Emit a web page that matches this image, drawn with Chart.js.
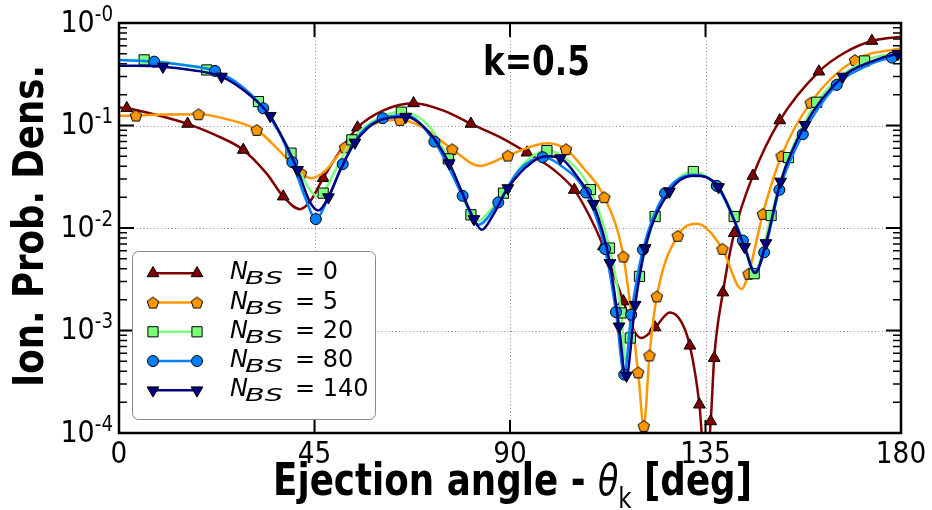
<!DOCTYPE html>
<html>
<head>
<meta charset="utf-8">
<script src="https://cdn.jsdelivr.net/npm/chart.js@4.4.1/dist/chart.umd.min.js"></script>
<style>
  html, body { margin: 0; padding: 0; background: #fff; }
  #chart { display: block; }
</style>
</head>
<body>
<canvas id="chart" width="932" height="510"></canvas>
<script>
// ejection angle (deg) and log10 of the ionization probability density
const angleTicks = [45, 90, 135];
const angleLabels = ['0', '45', '90', '135', '180'];
const decadeExps = [-4, -3, -2, -1, 0];
const decadeLabels = ['-4', '-3', '-2', '-1', '-0'];
const seriesNames = ['0', '5', '20', '80', '140'];
const seriesColors = ['#800000', '#ff9700', '#7bff7b', '#0080ff', '#000080'];

// N_BS = 0
const n0Curve = [[0,-0.825],[1.8,-0.831],[8,-0.89],[15.8,-0.984],[22,-1.09],[28.6,-1.238],[34,-1.47],[37.8,-1.693],
  [41.7,-1.816],[44,-1.74],[47,-1.514],[51,-1.24],[54.9,-1.02],[61,-0.85],[67.8,-0.783],[75,-0.86],[81,-0.984],
  [88,-1.12],[93.9,-1.264],[100,-1.43],[104.8,-1.628],[108.5,-1.9],[111.5,-2.18],[116.1,-2.716],[118.5,-3.0],
  [120.3,-3.073],[123.4,-2.97],[126.8,-2.824],[129.5,-2.92],[131.4,-3.148],[133.6,-3.723],[135,-4.4],[136.2,-3.886],
  [137,-3.268],[139,-2.629],[141.6,-2.05],[145.9,-1.491],[152.1,-0.95],[161.1,-0.474],[167,-0.29],[173.3,-0.175],[180,-0.133]];
const n0Marks = [[1.8,-0.831],[15.8,-0.984],[28.6,-1.238],[37.8,-1.693],[47,-1.514],[54.9,-1.02],[67.8,-0.783],
  [81,-0.984],[93.9,-1.264],[104.8,-1.628],[111.5,-2.18],[116.1,-2.716],[123.4,-2.97],[131.4,-3.148],[133.6,-3.723],
  [136.2,-3.886],[137,-3.268],[139,-2.629],[141.6,-2.05],[145.9,-1.491],[152.1,-0.95],[161.1,-0.474],[173.3,-0.175]];

// N_BS = 5
const n5Curve = [[0,-0.906],[3.9,-0.903],[10,-0.893],[18.3,-0.89],[25,-0.94],[31.7,-1.043],[37,-1.25],[41.9,-1.465],
  [44.3,-1.514],[47.5,-1.44],[52,-1.212],[58,-1.0],[64.7,-0.945],[70,-1.02],[76.7,-1.231],[83.1,-1.394],[89.5,-1.293],
  [98.5,-1.173],[102.9,-1.231],[107,-1.42],[111.7,-1.699],[116.1,-2.278],[119.5,-3.408],[120.8,-3.93],[122.1,-3.243],
  [123.8,-2.667],[128.6,-2.076],[133,-1.959],[138.9,-2.203],[143.3,-2.596],[144.9,-2.446],[148.2,-1.862],[152.5,-1.296],
  [159.2,-0.777],[169.4,-0.361],[180,-0.247]];
const n5Marks = [[3.9,-0.903],[18.3,-0.89],[31.7,-1.043],[41.9,-1.465],[52,-1.212],[64.7,-0.945],[76.7,-1.231],
  [89.5,-1.293],[102.9,-1.231],[111.7,-1.699],[116.1,-2.278],[119.5,-3.408],[120.8,-3.93],[122.1,-3.243],[123.8,-2.667],
  [128.6,-2.076],[138.9,-2.203],[144.9,-2.446],[148.2,-1.862],[152.5,-1.296],[159.2,-0.777],[169.4,-0.361]];

// N_BS = 20
const n20Curve = [[0,-0.36],[5.8,-0.36],[12,-0.39],[20.2,-0.458],[27,-0.59],[32.1,-0.767],[36,-1.0],[39.6,-1.27],
  [43.5,-1.6],[45.8,-1.695],[47,-1.66],[50,-1.42],[53.6,-1.14],[60,-0.92],[65,-0.87],[71,-0.99],[75.8,-1.326],
  [81,-1.871],[82.8,-1.93],[85,-1.85],[88.5,-1.66],[93,-1.38],[98.5,-1.245],[103,-1.33],[108.5,-1.625],[112.9,-2.196],
  [115.6,-2.829],[116.6,-3.3],[117.7,-3.073],[119.8,-2.472],[123.4,-1.888],[128,-1.55],[132.2,-1.449],[137,-1.57],
  [141.6,-1.888],[144,-2.2],[146.2,-2.446],[148,-2.25],[150.1,-1.878],[154.1,-1.313],[160.6,-0.773],[171.6,-0.37],[180,-0.289]];
const n20Marks = [[5.8,-0.36],[20.2,-0.458],[32.1,-0.767],[39.6,-1.27],[47,-1.66],[53.6,-1.14],[65,-0.87],
  [75.8,-1.326],[81,-1.871],[88.5,-1.66],[98.5,-1.245],[108.5,-1.625],[112.9,-2.196],[115.6,-2.829],[117.7,-3.073],
  [119.8,-2.472],[123.4,-1.888],[132.2,-1.449],[141.6,-1.888],[146.2,-2.446],[150.1,-1.878],[154.1,-1.313],
  [160.6,-0.773],[171.6,-0.37]];

// N_BS = 80
const n80Curve = [[0,-0.36],[8.1,-0.377],[15,-0.41],[22.1,-0.468],[28,-0.61],[33.2,-0.832],[37,-1.08],[39.9,-1.358],
  [43,-1.72],[45.3,-1.913],[48,-1.72],[51.5,-1.377],[56,-1.06],[60.7,-0.929],[66,-0.9],[72.6,-1.157],[79.1,-1.686],
  [82.7,-1.969],[87.3,-1.751],[92,-1.44],[97.5,-1.31],[102,-1.4],[107.5,-1.654],[111.9,-2.206],[114.4,-2.82],
  [116.3,-3.43],[117.9,-2.846],[120.6,-2.212],[125.7,-1.66],[132.2,-1.48],[137.6,-1.589],[143.6,-2.122],[146.4,-2.423],
  [148.5,-2.238],[152,-1.628],[157.4,-1.085],[165.2,-0.604],[172,-0.42],[177.9,-0.338],[180,-0.33]];
const n80Marks = [[8.1,-0.377],[22.1,-0.468],[33.2,-0.832],[39.9,-1.358],[45.3,-1.913],[51.5,-1.377],[60.7,-0.929],
  [72.6,-1.157],[79.1,-1.686],[87.3,-1.751],[97.5,-1.31],[107.5,-1.654],[111.9,-2.206],[114.4,-2.82],[116.3,-3.43],
  [117.9,-2.846],[120.6,-2.212],[125.7,-1.66],[137.6,-1.589],[143.6,-2.122],[148.5,-2.238],[152,-1.628],
  [157.4,-1.085],[165.2,-0.604],[177.9,-0.338]];

// N_BS = 140
const n140Curve = [[0,-0.416],[10.1,-0.426],[17,-0.46],[23.6,-0.523],[30,-0.7],[34.8,-0.906],[38,-1.15],[41.1,-1.433],
  [44,-1.75],[45.9,-1.829],[48.2,-1.7],[51,-1.43],[54.3,-1.166],[60,-0.95],[66,-0.915],[71,-1.05],[76,-1.368],
  [81.7,-1.913],[83.5,-2.018],[86,-1.88],[89.5,-1.611],[95,-1.36],[98.5,-1.3],[101.6,-1.319],[105.5,-1.5],
  [109.2,-1.764],[113,-2.342],[115.1,-2.96],[116.7,-3.463],[118.8,-2.749],[121.1,-2.196],[126.7,-1.644],[132.2,-1.49],
  [138,-1.601],[144,-2.186],[146.4,-2.44],[148.9,-2.147],[152.3,-1.547],[157.9,-0.994],[166.6,-0.523],[173,-0.38],
  [179.3,-0.3],[180,-0.298]];
const n140Marks = [[10.1,-0.426],[23.6,-0.523],[34.8,-0.906],[41.1,-1.433],[48.2,-1.7],[54.3,-1.166],[66,-0.915],
  [76,-1.368],[81.7,-1.913],[89.5,-1.611],[101.6,-1.319],[109.2,-1.764],[113,-2.342],[115.1,-2.96],[116.8,-3.44],
  [118.8,-2.749],[121.1,-2.196],[126.7,-1.644],[138,-1.601],[144,-2.186],[148.9,-2.147],[152.3,-1.547],
  [157.9,-0.994],[166.6,-0.523],[179.3,-0.3]];

const curves = [n0Curve, n5Curve, n20Curve, n80Curve, n140Curve];
const marks = [n0Marks, n5Marks, n20Marks, n80Marks, n140Marks];

// pentagon marker (no built-in point style for it)
function makePentagon(color) {
  const c = document.createElement('canvas');
  c.width = 14; c.height = 14;
  const g = c.getContext('2d');
  g.beginPath();
  for (let i = 0; i < 5; i++) {
    const a = -Math.PI / 2 + i * 2 * Math.PI / 5;
    const px = 7 + 6 * Math.cos(a), py = 7.6 + 6 * Math.sin(a);
    if (i === 0) g.moveTo(px, py); else g.lineTo(px, py);
  }
  g.closePath();
  g.fillStyle = color;
  g.fill();
  g.lineWidth = 1;
  g.strokeStyle = '#000';
  g.stroke();
  return c;
}

const markerStyles = [
  { pointStyle: 'triangle', radius: 6.8, rotation: 0 },
  { pointStyle: makePentagon(seriesColors[1]), radius: 7, rotation: 0 },
  { pointStyle: 'rect', radius: 7.2, rotation: 0 },
  { pointStyle: 'circle', radius: 5.5, rotation: 0 },
  { pointStyle: 'triangle', radius: 6.8, rotation: 180 }
];

const toPoints = arr => arr.map(([a, e]) => ({ x: a, y: Math.pow(10, e) }));

const datasets = [];
curves.forEach((curve, i) => {
  datasets.push({
    data: toPoints(curve),
    borderColor: seriesColors[i],
    borderWidth: 2.5,
    pointRadius: 0,
    cubicInterpolationMode: 'monotone',
    fill: false,
    clip: 0,
    order: 20 - i * 2
  });
  datasets.push({
    data: toPoints(marks[i]),
    showLine: false,
    pointStyle: markerStyles[i].pointStyle,
    pointRadius: markerStyles[i].radius,
    rotation: markerStyles[i].rotation,
    backgroundColor: seriesColors[i],
    borderColor: '#000',
    borderWidth: 1,
    clip: 0,
    order: 19 - i * 2
  });
});

const FONT = '"DejaVu Sans"';

// draw text made of pieces [text, font, dy], stretched horizontally by sx or to a target width
function drawParts(ctx, parts, x, y, opts) {
  let total = 0;
  const widths = parts.map(p => {
    ctx.font = p[1];
    const w = ctx.measureText(p[0]).width;
    total += w;
    return w;
  });
  const sx = opts.width ? opts.width / total : (opts.sx || 1);
  let start = x;
  if (opts.align === 'center') start = x - total * sx / 2;
  if (opts.align === 'right') start = x - total * sx;
  ctx.save();
  ctx.translate(start, y);
  ctx.scale(sx, 1);
  ctx.textAlign = 'left';
  ctx.textBaseline = 'alphabetic';
  ctx.fillStyle = '#000';
  let cx = 0;
  parts.forEach((p, i) => {
    ctx.font = p[1];
    ctx.fillText(p[0], cx, p[2] || 0);
    cx += widths[i];
  });
  ctx.restore();
}

const decorPlugin = {
  id: 'decor',
  beforeDatasetsDraw(chart) {
    const { ctx, chartArea: a, scales: { x, y } } = chart;
    ctx.save();
    ctx.strokeStyle = '#888';
    ctx.lineWidth = 1;
    ctx.setLineDash([1, 2.5]);
    angleTicks.forEach(t => {
      const px = Math.round(x.getPixelForValue(t)) + 0.5;
      ctx.beginPath(); ctx.moveTo(px, a.top); ctx.lineTo(px, a.bottom); ctx.stroke();
    });
    decadeExps.slice(1, -1).forEach(e => {
      const py = Math.round(y.getPixelForValue(Math.pow(10, e))) + 0.5;
      ctx.beginPath(); ctx.moveTo(a.left, py); ctx.lineTo(a.right, py); ctx.stroke();
    });
    ctx.restore();
  },
  afterDatasetsDraw(chart) {
    const { ctx, chartArea: a, scales: { x, y } } = chart;
    ctx.save();
    ctx.strokeStyle = '#000';

    // minor and major ticks on the log axis, both sides
    ctx.lineWidth = 1.5;
    for (let e = -4; e < 0; e++) {
      for (let m = 2; m <= 9; m++) {
        const py = y.getPixelForValue(m * Math.pow(10, e));
        ctx.beginPath();
        ctx.moveTo(a.left, py); ctx.lineTo(a.left + 8, py);
        ctx.moveTo(a.right, py); ctx.lineTo(a.right - 8, py);
        ctx.stroke();
      }
    }
    ctx.lineWidth = 2;
    decadeExps.forEach(e => {
      const py = y.getPixelForValue(Math.pow(10, e));
      ctx.beginPath();
      ctx.moveTo(a.left, py); ctx.lineTo(a.left + 15, py);
      ctx.moveTo(a.right, py); ctx.lineTo(a.right - 15, py);
      ctx.stroke();
    });
    angleTicks.forEach(t => {
      const px = x.getPixelForValue(t);
      ctx.beginPath();
      ctx.moveTo(px, a.bottom); ctx.lineTo(px, a.bottom - 13);
      ctx.moveTo(px, a.top); ctx.lineTo(px, a.top + 14);
      ctx.stroke();
    });

    // axes frame
    ctx.lineWidth = 2.5;
    ctx.strokeRect(a.left, a.top, a.right - a.left, a.bottom - a.top);
    ctx.restore();

    // tick labels
    angleLabels.forEach(lab => {
      drawParts(ctx, [[lab, `31px ${FONT}`]], x.getPixelForValue(+lab), 463, { align: 'center', sx: 0.85 });
    });
    decadeExps.forEach((e, i) => {
      const py = y.getPixelForValue(Math.pow(10, e));
      drawParts(ctx, [['10', `31px ${FONT}`], [decadeLabels[i], `21px ${FONT}`, -11]], 113, py + 8.5,
        { align: 'right', sx: 0.87 });
    });

    // axis titles
    drawParts(ctx, [
      ['Ejection angle - ', `bold 45px ${FONT}`],
      ['θ', `oblique 42px ${FONT}`],
      ['k', `29px ${FONT}`, 13],
      [' [deg]', `bold 45px ${FONT}`]
    ], 273, 495, { width: 479 });

    ctx.save();
    ctx.translate(43, 387);
    ctx.rotate(-Math.PI / 2);
    drawParts(ctx, [['Ion. Prob. Dens.', `bold 42px ${FONT}`]], 0, 0, { width: 322 });
    ctx.restore();

    // panel label
    drawParts(ctx, [['k=0.5', `bold 41px ${FONT}`]], 483, 75, { width: 107 });

    // legend
    ctx.save();
    ctx.beginPath();
    if (ctx.roundRect) ctx.roundRect(132.5, 251.5, 243, 168, 6); else ctx.rect(132.5, 251.5, 243, 168);
    ctx.fillStyle = '#fff';
    ctx.fill();
    ctx.strokeStyle = '#8a8a8a';
    ctx.lineWidth = 1;
    ctx.stroke();
    ctx.restore();
    seriesNames.forEach((name, i) => {
      const ry = 273.3 + i * 29.25;
      ctx.save();
      ctx.strokeStyle = seriesColors[i];
      ctx.lineWidth = 2.5;
      ctx.beginPath(); ctx.moveTo(153, ry); ctx.lineTo(197, ry); ctx.stroke();
      ctx.fillStyle = seriesColors[i];
      ctx.strokeStyle = '#000';
      ctx.lineWidth = 1;
      const st = markerStyles[i];
      [153, 197].forEach(mx => {
        Chart.helpers.drawPoint(ctx, { pointStyle: st.pointStyle, rotation: st.rotation, radius: st.radius, borderWidth: 1 }, mx, ry);
      });
      ctx.restore();
      drawParts(ctx, [['N', `oblique 24px ${FONT}`]], 230, ry + 6, {});
      drawParts(ctx, [['BS', `oblique 18px ${FONT}`]], 245, ry + 11, { width: 38 });
      drawParts(ctx, [['= ' + name, `24px ${FONT}`]], 295, ry + 6, {});
    });
  }
};

new Chart(document.getElementById('chart'), {
  type: 'line',
  data: { datasets },
  options: {
    responsive: false,
    animation: false,
    events: [],
    layout: { padding: { left: 119, right: 31, top: 23, bottom: 77 } },
    scales: {
      x: { type: 'linear', min: 0, max: 180, display: false },
      y: { type: 'logarithmic', min: 1e-4, max: 1, display: false }
    },
    plugins: {
      legend: { display: false },
      tooltip: { enabled: false }
    }
  },
  plugins: [decorPlugin]
});
</script>
</body>
</html>
